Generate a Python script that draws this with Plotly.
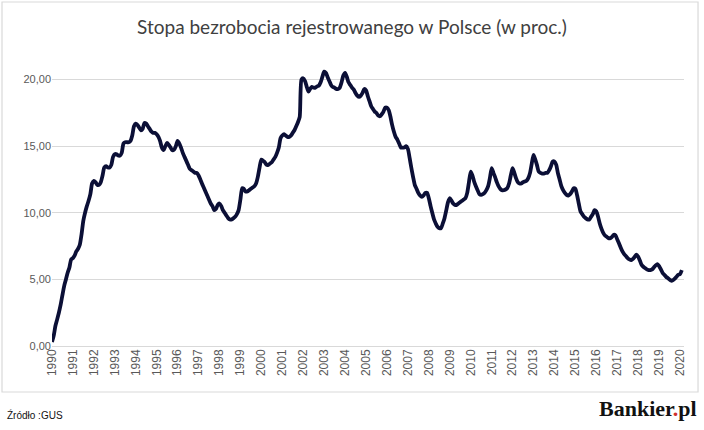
import plotly.graph_objects as go
import pandas as pd

# Monthly registered unemployment rate in Poland (%)
rate_1990s = [
    0.3, 0.8, 1.5, 2.0, 2.5, 3.1, 3.8, 4.5, 5.0, 5.5, 5.9, 6.5,          # 1990
    6.6, 6.8, 7.1, 7.3, 7.6, 8.4, 9.4, 10.0, 10.5, 10.9, 11.4, 12.2,     # 1991
    12.4, 12.3, 12.1, 12.1, 12.3, 12.8, 13.4, 13.5, 13.4, 13.4, 13.6, 14.2,  # 1992
    14.4, 14.4, 14.3, 14.3, 14.5, 15.2, 15.3, 15.3, 15.3, 15.4, 15.8, 16.5,  # 1993
    16.7, 16.6, 16.4, 16.2, 16.3, 16.75, 16.7, 16.5, 16.3, 16.1, 16.0, 16.0,  # 1994
    15.9, 15.7, 15.4, 14.9, 14.7, 15.0, 15.25, 15.1, 14.9, 14.7, 14.75, 15.0,  # 1995
    15.4, 15.2, 14.9, 14.5, 14.2, 13.9, 13.6, 13.3, 13.2, 13.1, 13.0, 13.0,  # 1996
    12.8, 12.5, 12.2, 11.9, 11.6, 11.3, 11.0, 10.7, 10.5, 10.2, 10.3, 10.6,  # 1997
    10.7, 10.5, 10.2, 10.0, 9.8, 9.6, 9.5, 9.5, 9.6, 9.7, 9.9, 10.2,     # 1998
    11.0, 11.85, 11.8, 11.6, 11.6, 11.7, 11.8, 11.9, 12.0, 12.2, 12.7, 13.4,  # 1999
]
rate_2000s = [
    14.0, 13.9, 13.8, 13.6, 13.6, 13.7, 13.8, 14.0, 14.2, 14.5, 14.9, 15.6,  # 2000
    15.8, 15.9, 15.8, 15.7, 15.7, 15.8, 16.0, 16.2, 16.5, 16.8, 17.2, 20.0,  # 2001
    20.1, 19.9, 19.5, 19.1, 19.3, 19.45, 19.4, 19.4, 19.5, 19.55, 19.8, 20.2,  # 2002
    20.6, 20.5, 20.2, 19.9, 19.6, 19.45, 19.4, 19.3, 19.3, 19.4, 19.8, 20.3,  # 2003
    20.5, 20.2, 19.8, 19.6, 19.4, 19.25, 19.0, 18.8, 18.7, 18.8, 19.0, 19.3,  # 2004
    19.2, 18.75, 18.4, 18.0, 17.8, 17.6, 17.5, 17.3, 17.25, 17.4, 17.6, 17.9,  # 2005
    17.9, 17.7, 17.25, 16.6, 16.1, 15.7, 15.5, 15.2, 14.9, 14.9, 14.9, 15.0,  # 2006
    14.8, 14.1, 13.4, 12.7, 12.1, 11.8, 11.5, 11.3, 11.2, 11.3, 11.5, 11.5,  # 2007
    11.1, 10.5, 10.0, 9.5, 9.2, 8.95, 8.85, 8.85, 9.2, 9.6, 10.2, 10.8,  # 2008
    11.1, 10.9, 10.7, 10.6, 10.6, 10.7, 10.8, 10.9, 11.0, 11.1, 11.5, 12.3,  # 2009
]
rate_2010s = [
    13.1, 12.8, 12.35, 12.0, 11.7, 11.4, 11.35, 11.4, 11.5, 11.7, 12.0, 12.6,  # 2010
    13.35, 13.0, 12.7, 12.3, 12.0, 11.8, 11.7, 11.7, 11.75, 11.85, 12.2, 12.8,  # 2011
    13.35, 13.0, 12.6, 12.3, 12.2, 12.2, 12.3, 12.35, 12.4, 12.6, 13.0, 13.7,  # 2012
    14.35, 14.0, 13.6, 13.1, 13.0, 12.95, 12.95, 13.0, 13.0, 13.2, 13.5, 13.85,  # 2013
    13.85, 13.6, 13.0, 12.5, 12.0, 11.7, 11.5, 11.35, 11.3, 11.4, 11.6, 11.85,  # 2014
    11.8, 11.3, 10.7, 10.1, 9.9, 9.7, 9.6, 9.5, 9.5, 9.7, 9.9, 10.2,    # 2015
    10.1, 9.7, 9.2, 8.8, 8.5, 8.3, 8.2, 8.1, 8.1, 8.2, 8.35, 8.3,       # 2016
    8.0, 7.7, 7.4, 7.1, 6.9, 6.75, 6.6, 6.5, 6.45, 6.55, 6.7, 6.85,    # 2017
    6.7, 6.4, 6.1, 5.95, 5.85, 5.75, 5.7, 5.7, 5.75, 5.9, 6.05, 6.15,  # 2018
    6.0, 5.75, 5.5, 5.35, 5.2, 5.1, 5.0, 4.9, 4.95, 5.05, 5.2, 5.35,   # 2019
]
rate_2020s = [5.4, 5.7]

rates = rate_1990s + rate_2000s + rate_2010s + rate_2020s
months = pd.date_range("1990-01-01", periods=len(rates), freq="MS")

years = list(range(1990, 2021))
tick_vals = [pd.Timestamp(f"{y}-01-01") for y in years]
tick_text = [str(y) for y in years]

y_ticks = [0, 5, 10, 15, 20]

fig = go.Figure()

fig.add_trace(go.Scatter(
    x=months,
    y=rates,
    mode="lines",
    line=dict(color="#0b0f36", width=3.8, shape="spline", smoothing=0.6),
    showlegend=False,
    hoverinfo="skip",
))

# light grey frame around the whole chart (as in Excel export)
fig.add_shape(
    type="rect", xref="paper", yref="paper",
    x0=-0.0791, x1=1.0222, y0=-0.157, y1=1.1740,
    line=dict(color="#d9d9d9", width=1.2),
    fillcolor="rgba(0,0,0,0)", layer="below",
)

fig.add_annotation(
    text="Źródło :GUS", xref="paper", yref="paper",
    x=-0.075, y=-0.2355, xanchor="left", yanchor="middle",
    showarrow=False,
    font=dict(family="Liberation Sans Narrow, Liberation Sans, Arial", size=10, color="#111111"),
)
fig.add_annotation(
    text="Bankier<span style='color:#d0312d'>.</span>pl",
    xref="paper", yref="paper",
    x=1.0235, y=-0.215, xanchor="right", yanchor="middle",
    showarrow=False,
    font=dict(family="Liberation Serif, DejaVu Serif, serif", size=22, color="#111111", weight="bold"),
)

fig.update_layout(
    width=704,
    height=430,
    margin=dict(l=52, r=20, t=53, b=84),
    paper_bgcolor="white",
    plot_bgcolor="white",
    separators=", ",
    title=dict(
        text="Stopa bezrobocia rejestrowanego w Polsce (w proc.)",
        x=0.5, xanchor="center",
        y=0.937, yanchor="middle",
        font=dict(family="Lato, Open Sans, sans-serif", size=19, color="#404040"),
    ),
    xaxis=dict(
        range=[pd.Timestamp("1990-01-01"), pd.Timestamp("2020-03-10")],
        tickmode="array",
        tickvals=tick_vals,
        ticktext=tick_text,
        tickangle=-90,
        tickfont=dict(family="Liberation Sans, Arial", size=12, color="#595959"),
        showgrid=False,
        zeroline=False,
        showline=False,
        ticks="",
    ),
    yaxis=dict(
        range=[0, 22],
        tickmode="array",
        tickvals=y_ticks,
        tickformat=".2f",
        tickfont=dict(family="Liberation Sans, Arial", size=11, color="#595959"),
        showgrid=True,
        gridcolor="#d9d9d9",
        gridwidth=1,
        zeroline=True,
        zerolinecolor="#d9d9d9",
        zerolinewidth=1,
        showline=False,
        ticks="",
        ticklen=4,
    ),
)

fig.write_html(
    "out.html",
    config={"displayModeBar": False},
    post_script="document.body.style.margin='0';",
)
